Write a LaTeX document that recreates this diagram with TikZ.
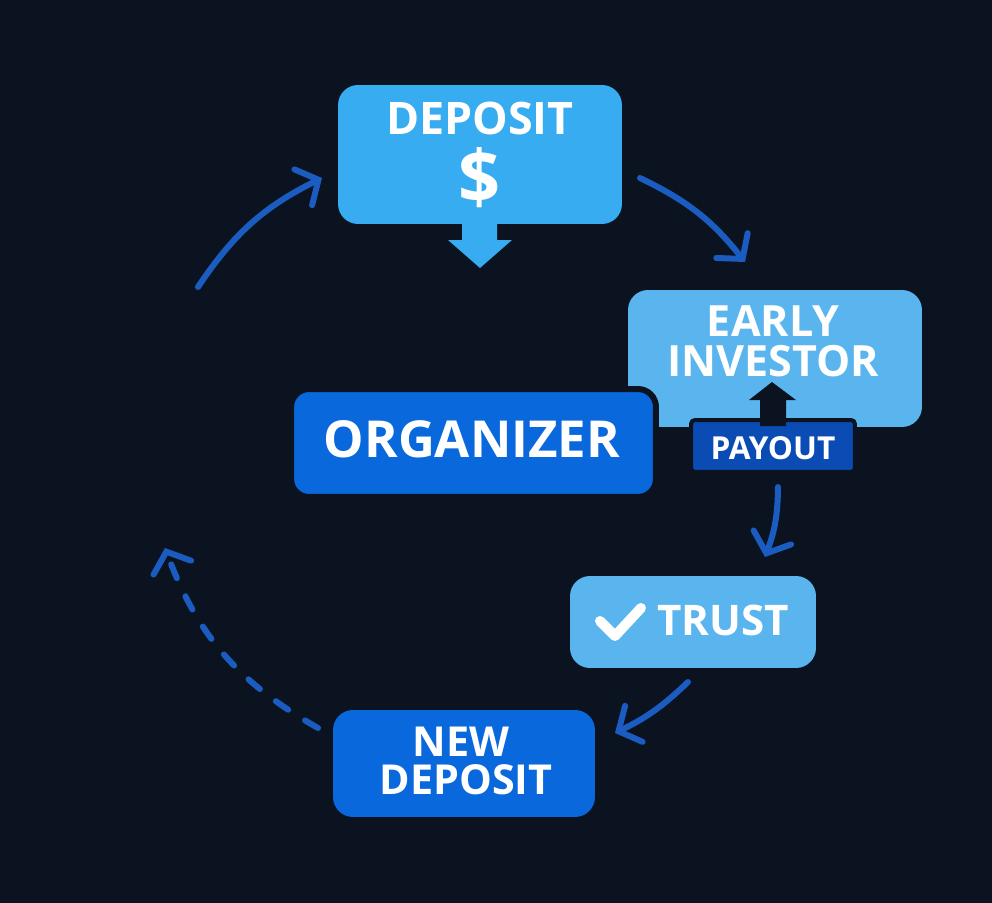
\documentclass[tikz,border=0pt]{standalone}
\usepackage{fontspec}
\setmainfont{Open Sans}
\usetikzlibrary{arrows.meta}

\definecolor{bgnavy}{HTML}{0B1220}
\definecolor{skyblue}{HTML}{38ACF0}
\definecolor{paleblue}{HTML}{5AB5EE}
\definecolor{deepblue}{HTML}{0A68DD}
\definecolor{payblue}{HTML}{0A4CB4}
\definecolor{loopblue}{HTML}{1A5CC0}

\begin{document}
\begin{tikzpicture}[x=0.02cm, y=-0.02cm]

\fill[bgnavy] (0,0) rectangle (992,903);
\useasboundingbox (0,0) rectangle (992,903);

% boxes
\tikzset{every node/.style={rounded corners=0.4cm, inner sep=0pt}}
\node[fill=skyblue, minimum width=5.68cm, minimum height=2.78cm] (deposit) at (480,154.5) {};
\node[fill=paleblue, minimum width=5.88cm, minimum height=2.74cm] (early) at (775,358.5) {};
\node[fill=deepblue, draw=bgnavy, line width=0.12cm, rounded corners=0.36cm,
      minimum width=7.3cm, minimum height=2.16cm] (organizer) at (473.5,443) {};
\node[fill=payblue, draw=bgnavy, line width=0.08cm, rounded corners=0.08cm,
      minimum width=3.28cm, minimum height=1.04cm] (payout) at (773,446) {};
\node[fill=paleblue, minimum width=4.92cm, minimum height=1.84cm] (trust) at (693,622) {};
\node[fill=deepblue, minimum width=5.24cm, minimum height=2.14cm] (newdep) at (464,763.5) {};

% box arrows
\fill[skyblue] (462,220) -- (462,240) -- (448,240) -- (480,268) -- (512,240) -- (497,240) -- (497,220) -- cycle;
\fill[bgnavy] (760,426) -- (760,400) -- (749,400) -- (772,382) -- (796,400) -- (786,400) -- (786,426) -- cycle;

% texts
\tikzset{every node/.style={text=white, font=\bfseries, inner sep=0pt}}
\node[font=\bfseries\fontsize{25.5}{25.5}\selectfont] (deptxt) at (480,118) {DEPOSIT};
\node[font=\bfseries\fontsize{42}{42}\selectfont] (dollar) at (480,178) {\$};
\node[font=\bfseries\fontsize{24.5}{24.5}\selectfont] (earlytxt) at (773,321) {EARLY};
\node[font=\bfseries\fontsize{24.5}{24.5}\selectfont] (invtxt) at (773,361) {INVESTOR};
\node[font=\bfseries\fontsize{29}{29}\selectfont] (orgtxt) at (472,439) {ORGANIZER};
\node[font=\bfseries\fontsize{18}{18}\selectfont] (paytxt) at (773,448) {PAYOUT};
\node[font=\bfseries\fontsize{24}{24}\selectfont] (trusttxt) at (723,620) {TRUST};
\node[font=\bfseries\fontsize{23.5}{23.5}\selectfont] (newtxt) at (461,742) {NEW};
\node[font=\bfseries\fontsize{23.5}{23.5}\selectfont] (deptxtb) at (466,780) {DEPOSIT};
\draw[white, line width=0.2cm, line cap=round, line join=round] (600,621) -- (615,636) -- (641,608);

% loop arrows
\tikzset{loop/.style={loopblue, line width=0.12cm, line cap=round,
  -{Straight Barb[length=0.34cm, width=0.8cm, line cap=round]}}}
\coordinate (a1) at (198,287); \coordinate (b1) at (322,178);
\coordinate (a2) at (640,178); \coordinate (b2) at (745,262);
\coordinate (a3) at (778,487); \coordinate (b3) at (765,557);
\coordinate (a4) at (688,682); \coordinate (b4) at (615,733);
\coordinate (a5) at (318,728); \coordinate (b5) at (165,548);
\draw[loop] (a1) to[bend left=15] (b1);
\draw[loop] (a2) to[bend left=13] (b2);
\draw[loop] (a3) to[bend left=10] (b3);
\draw[loop] (a4) to[bend left=9] (b4);
\draw[loop, dash pattern=on 0.3cm off 0.4cm] (a5) to[bend left=20] (b5);

\end{tikzpicture}
\end{document}
